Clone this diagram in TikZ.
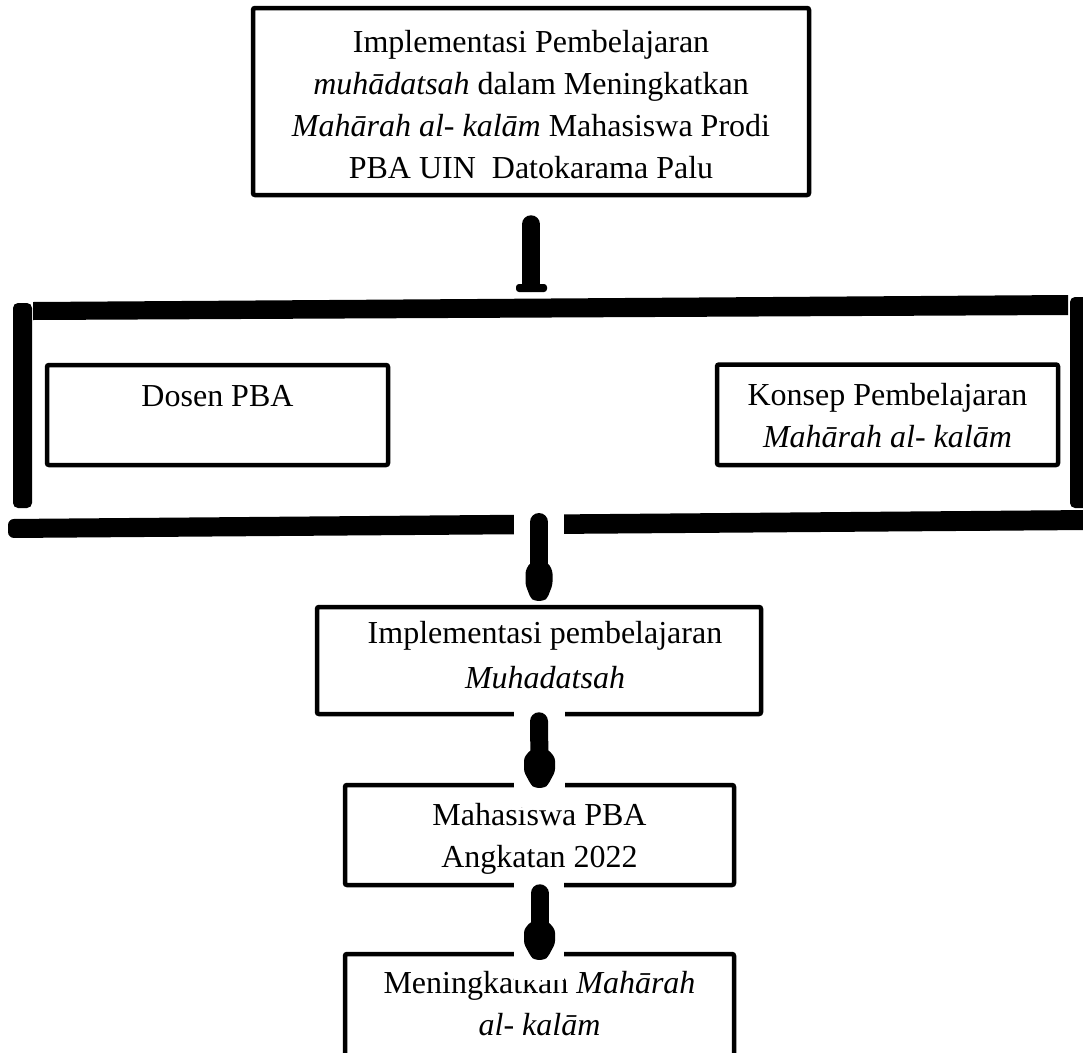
\documentclass[tikz,border=0pt]{standalone}
\usepackage{fontspec}
\setmainfont{Liberation Serif}
\usetikzlibrary{calc}
\newcommand\bulbhead[2]{\fill[shift={(#1)}, rounded corners=3pt] (-9,-38) -- (-#2,-30) -- (-#2,-16) -- (-8.5,-3) -- (-5,0) -- (5,0) -- (8.5,-3) -- (#2,-16) -- (#2,-30) -- (9,-38) -- cycle;}
\begin{document}
\begin{tikzpicture}[x=1pt,y=-1pt,
  box/.style={draw=black, line width=4.5pt, rounded corners=2pt, inner sep=0pt,
    font=\fontsize{32}{42}\selectfont},
  shaft/.style={line width=18pt, line cap=round},
  mask/.style={fill=white},
  bar/.style={fill=black}]
\useasboundingbox (0,0) rectangle (1083,1052);
\clip (0,0) rectangle (1083,1052);
% boxes
\node[box, minimum width=556pt, text height=44pt, text depth=143pt] (b1) at (531,101.5)
  {\parbox[t]{545pt}{\centering Implementasi Pembelajaran\\ \textit{muhādatsah} dalam Meningkatkan\\ \textit{Mahārah al- kalām} Mahasiswa Prodi\\ PBA UIN\ \ Datokarama Palu}};
\node[box, minimum width=341pt, text height=41pt, text depth=59pt] (b2) at (217.5,415)
  {\parbox[t]{330pt}{\centering Dosen PBA}};
\node[box, minimum width=341pt, text height=40.5pt, text depth=60pt] (b3) at (887.5,414.75)
  {\parbox[t]{330pt}{\centering Konsep Pembelajaran\\ \textit{Mahārah al- kalām}}};
\node[box, minimum width=444pt, text height=36pt, text depth=71pt] (b4) at (539,660.5)
  {\parbox[t]{430pt}{\centering \hspace*{12pt}Implementasi pembelajaran\\[3pt] \hspace*{12pt}\textit{Muhadatsah}}};
\node[box, minimum width=389pt, text height=40pt, text depth=60pt] (b5) at (539.5,835)
  {\parbox[t]{380pt}{\centering Mahasiswa PBA\\ Angkatan 2022}};
\node[box, minimum width=389pt, text height=39pt, text depth=157pt] (b6) at (539.5,1052)
  {\parbox[t]{380pt}{\centering Meningkatkan \textit{Mahārah}\\ \textit{al- kalām}}};
% bracket around b2 and b3
\fill[bar] (33,302) -- (1068,295) -- (1068,315) -- (33,320) -- cycle;
\fill[bar, rounded corners=5pt] (13,508) -- (13,303) -- (32,303) -- (32,508) -- cycle;
\fill[bar, rounded corners=5pt] (1070,508) -- (1070,297) -- (1095,297) -- (1095,508) -- cycle;
\fill[bar, rounded corners=6pt] (8,519) -- (1090,510) -- (1090,530) -- (8,538) -- cycle;
\coordinate (brtop) at (531,306);
\coordinate (brbot) at (539,526);
% arrow 1: b1 -> bracket
\draw[shaft] ($(b1.south)+(0,27)$) -- ($(brtop)+(0,-23)$);
\fill[rounded corners=3pt] ($(brtop)+(-15,-22)$) rectangle ($(brtop)+(16,-14)$);
% arrow 2: bracket -> b4
\fill[mask] ($(brbot)+(-25.5,-30)$) rectangle ($(b4.north)+(25,-6)$);
\draw[shaft] ($(brbot)+(0,-4)$) -- ($(b4.north)+(0,-20)$);
\coordinate (t2) at ($(b4.north)+(0,-4)$);
\bulbhead{t2}{13.5}
% arrow 3: b4 -> b5
\fill[mask] ($(b4.south)+(-25,-14)$) rectangle ($(b5.north)+(25,24)$);
\draw[shaft] ($(b4.south)+(0,5)$) -- ($(b5.north)+(0,-20)$);
\coordinate (t3) at ($(b5.north)+(0,5)$);
\bulbhead{t3}{15.5}
% arrow 4: b5 -> b6
\fill[mask] ($(b5.south)+(-26,-15)$) rectangle ($(b6.north)+(24,28)$);
\draw[shaft] ($(b5.south)+(0,6)$) -- ($(b6.north)+(0,-17)$);
\coordinate (t4) at ($(b6.north)+(0,8)$);
\bulbhead{t4}{15.5}
\end{tikzpicture}
\end{document}
